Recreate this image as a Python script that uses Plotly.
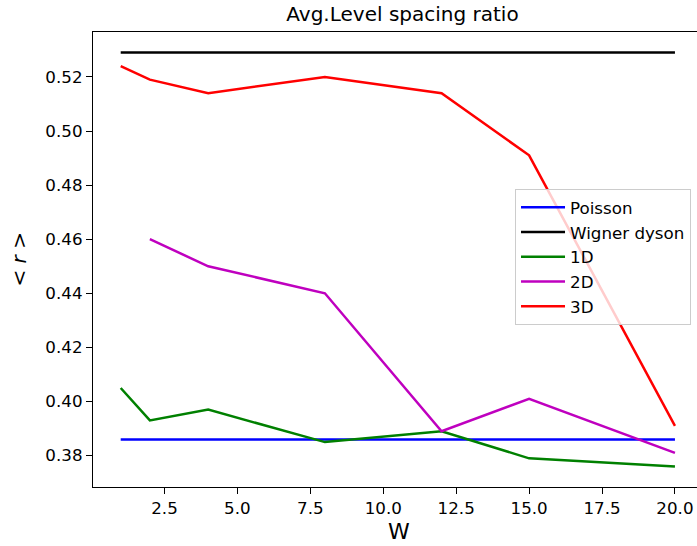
import plotly.graph_objects as go

# Disorder strengths W
w_1d = [1, 2, 4, 8, 12, 15, 20]
w_2d = [2, 4, 8, 12, 15, 20]
w_3d = [1, 2, 4, 8, 12, 15, 20]
w_ref = [1, 20]

# Average level spacing ratio <r>
r_1d = [0.405, 0.393, 0.397, 0.385, 0.389, 0.379, 0.376]
r_2d = [0.460, 0.450, 0.440, 0.389, 0.401, 0.381]
r_3d = [0.524, 0.519, 0.514, 0.520, 0.514, 0.491, 0.391]
r_poisson = [0.386, 0.386]
r_wigner = [0.529, 0.529]

series = [
    ("Poisson", w_ref, r_poisson, "#0000ff"),
    ("Wigner dyson", w_ref, r_wigner, "#000000"),
    ("1D", w_1d, r_1d, "#008000"),
    ("2D", w_2d, r_2d, "#bf00bf"),
    ("3D", w_3d, r_3d, "#ff0000"),
]

FONT = "DejaVu Sans"

fig = go.Figure()
for name, xs, ys, color in series:
    fig.add_trace(go.Scatter(
        x=xs, y=ys, mode="lines", name=name,
        line=dict(color=color, width=2.5),
    ))

fig.update_layout(
    width=697, height=546,
    margin=dict(l=93, r=0, t=32, b=59),
    paper_bgcolor="white", plot_bgcolor="white",
    font=dict(family=FONT, size=16.7, color="black"),
    showlegend=True,
    legend=dict(
        x=0.6987, y=0.655, xanchor="left", yanchor="top",
        bgcolor="rgba(255,255,255,0.8)", bordercolor="#cccccc", borderwidth=1,
        font=dict(family=FONT, size=16.7, color="black"),
        tracegroupgap=0, itemwidth=44,
    ),
    title=dict(
        text="Avg.Level spacing ratio", x=402.5 / 697, xref="container",
        y=1 - 14 / 546, yref="container", xanchor="center", yanchor="middle",
        font=dict(family=FONT, size=20, color="black"),
    ),
)

fig.update_xaxes(
    range=[0.05, 20.756], showgrid=False, zeroline=False,
    showline=True, linecolor="black", linewidth=1.3, mirror=True,
    ticks="outside", ticklen=6, tickwidth=1.3, tickcolor="black",
    tick0=0, dtick=2.5, tickformat=".1f",
)
fig.update_yaxes(
    range=[0.3684, 0.5366], showgrid=False, zeroline=False,
    showline=True, linecolor="black", linewidth=1.3, mirror=False,
    ticks="outside", ticklen=6, tickwidth=1.3, tickcolor="black",
    tick0=0, dtick=0.02, tickformat=".2f",
)

# Axis labels
fig.add_annotation(
    text="W", xref="paper", yref="paper", x=(399 - 93) / 604, y=-(531 - 487) / 455,
    xanchor="center", yanchor="middle", showarrow=False,
    font=dict(family=FONT, size=22, color="black"),
)
fig.add_annotation(
    text="&lt; <i>r</i> &gt;", xref="paper", yref="paper", x=(18 - 93) / 604, y=0.5,
    xanchor="center", yanchor="middle", textangle=-90, showarrow=False,
    font=dict(family=FONT, size=20, color="black"),
)

fig.write_html("out.html")
